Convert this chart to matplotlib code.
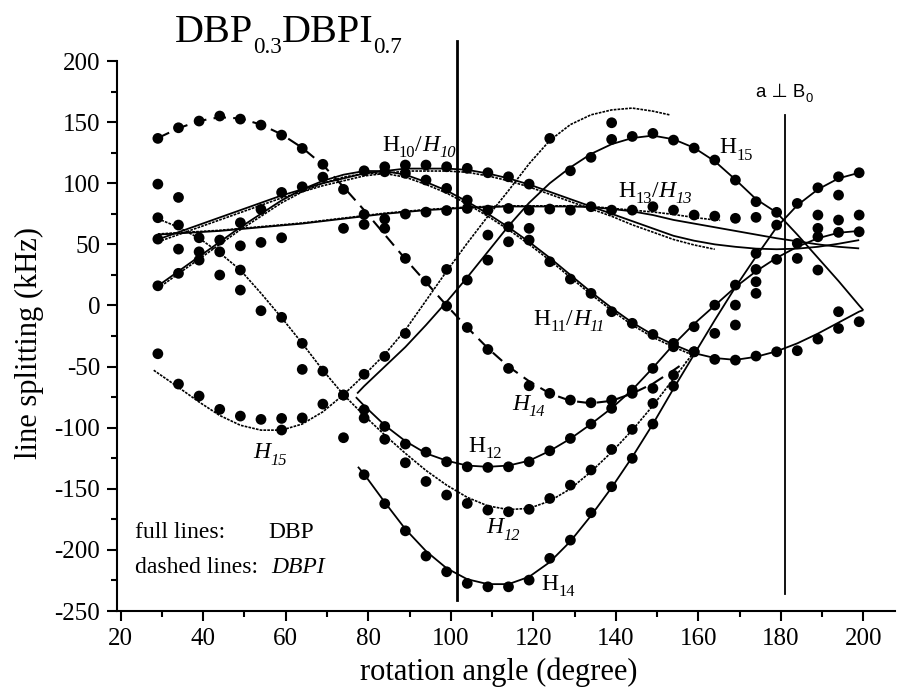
import matplotlib
matplotlib.use("Agg")
import matplotlib.pyplot as plt

plt.rcParams['font.family'] = ['Liberation Serif', 'DejaVu Serif']
plt.rcParams['mathtext.fontset'] = 'custom'
plt.rcParams['mathtext.rm'] = 'Liberation Serif'
plt.rcParams['mathtext.it'] = 'Liberation Serif:italic'
plt.rcParams['axes.unicode_minus'] = False

# ---------------- measured line splittings (kHz) vs rotation angle (deg) ----------------
h14i_dot_ang = [29, 34, 39, 44, 49, 54, 59, 64, 69, 74, 79, 89, 94, 99, 104, 109, 114, 119, 124, 129, 134, 139, 144, 149, 154]
h14i_dot = [136.7, 145.4, 150.9, 155, 152.5, 147.6, 139.4, 128.5, 115.5, 95, 74.5, 38.5, 20, -0.5, -18,
            -36, -51.5, -65.7, -71.9, -77.4, -79.6, -77.4, -69.2, -67.8, -57]

h15i_dot_ang = [29, 34, 39, 44, 49, 54, 59, 64, 69, 74, 79, 84, 89, 99, 109, 124, 139]
h15i_dot = [-39.5, -64.3, -74.1, -85, -90.5, -93.2, -92.4, -92, -80.7, -73.3, -56.3, -41.7, -22.9, 29.5, 57.6, 136.7, 149.5]

h15_dot_ang = [104, 109, 114, 129, 134, 139, 144, 149, 154, 159, 164, 169, 174, 179]
h15_dot = [20.8, 37.1, 64.4, 110.2, 121.2, 135.9, 138.3, 140.8, 135.3, 128.8, 119, 102.6, 84.9, 76.2]

h10_dot_ang = [29, 59, 64, 79, 84, 89, 94, 99, 104, 109, 114, 119]
h10_dot = [54.3, 92.5, 97.1, 110.2, 113.5, 114.9, 114.9, 113.5, 112.2, 108.6, 105.3, 99.3]

h11_dot_ang = [29, 34, 39, 44, 49, 54, 69, 84, 89, 94, 99, 104, 109, 119, 124, 129, 134, 139, 144, 149,
               154, 159, 164, 169, 174, 179, 184, 189, 194, 199]
h11_dot = [16.1, 26.3, 37.1, 53.5, 67.7, 78.6, 105, 109.4, 108.1, 102.6, 95.8, 86.2, 78, 53.5, 35.8, 21.6, 9.9,
           -5.1, -14.6, -23.7, -31, -37.9, -44.1, -44.7, -41.4, -37.9, -37, -27.5, -18.8, -13.3]

h13_dot_ang = [84, 89, 94, 99, 104, 114, 119, 124, 129, 134, 139, 144, 149, 154, 159, 164, 169, 174]
h13_dot = [70.7, 74.8, 76.4, 77.7, 79.4, 79.4, 78, 78.9, 78, 80.8, 78, 78, 80.8, 78, 74, 73.1, 71.3, 72.1]

h12_dot_ang = [79, 84, 89, 94, 99, 104, 109, 114, 119, 124, 129, 134, 139, 144, 149, 154, 164, 169, 174, 179,
               184, 189, 194, 199]
h12_dot = [-92.1, -99, -113.4, -120, -127.9, -132, -132.5, -132, -127.9, -118.9, -108.8, -97, -84.2, -71.9,
           -51.5, -33.8, 0.3, 16.7, 29.5, 37.7, 50.8, 56.2, 59.8, 60.3]

h12i_dot_ang = [29, 34, 39, 44, 49, 54, 59, 64, 69, 74, 79, 84, 89, 94, 99, 104, 109, 114, 119, 124, 129, 134,
                139, 144, 149]
h12i_dot = [71.8, 65.8, 55.4, 43.9, 29, -4.3, -9.7, -31, -53.7, -73.3, -85.3, -109.5, -128.7, -144, -155.1,
            -162, -167.4, -168.8, -166.8, -157.9, -147, -134.6, -117.8, -101.4, -80.1]

h14_dot_ang = [79, 84, 89, 94, 99, 104, 109, 114, 119, 124, 129, 134, 139, 144, 149, 154, 159, 174, 179, 184,
               189, 194, 199]
h14_dot = [-138.5, -162.2, -184.4, -205, -217.9, -227.4, -230.2, -230.2, -224.7, -206.9, -192, -169.6, -148.3,
           -125.1, -97, -66, -37.9, 42.6, 65.8, 83.5, 96.3, 105.3, 108.6]

other_dot_ang = [29, 34, 34, 39, 44, 49, 49, 54, 59, 59, 64, 74, 74, 79, 84, 114, 119, 159, 164, 169, 169, 174,
                 174, 184, 189, 189, 189, 194, 194, 194, 199]
other_dot = [99.3, 88.4, 46.1, 43.9, 24.9, 48.8, 12.6, 51.6, 55.4, -101.9, -52.3, 63.1, -108.2, 66.3, 63.1,
             52.1, 63.1, -17.4, -22.8, 0.3, -16, 19.4, 9.9, 38.5, 74, 63.1, 29, 90.3, 69.9, -5.1, 74]

# ---------------- fitted curves ----------------
grid5 = [29, 34, 39, 44, 49, 54, 59, 64, 69, 74, 79, 84, 89, 94, 99, 104, 109, 114, 119, 124, 129, 134, 139,
         144, 149, 154, 159, 164, 169, 174, 179, 184, 189, 194, 199]

# DBPI, H14 (long dashes)
h14i_fit_x = grid5[:26] + [157]
h14i_fit_y = [137, 145, 151, 154, 153, 148, 140, 129, 115, 97, 78, 58, 38, 19, 0, -18, -35, -50, -62, -72,
              -78, -80, -78, -72, -64, -53, -46]

# DBPI, H15
h15i_fit_x = [28] + grid5[1:25] + [153]
h15i_fit_y = [-53, -67, -79, -90, -98, -102, -102, -97, -87, -73, -57, -40, -20, 4, 28, 51, 73, 94, 116, 135,
              148, 156, 160, 161.5, 159, 156]

# DBP, H15
h15_fit_x = [77.3] + grid5[10:] + [200]
h15_fit_y = [-72, -66, -50, -34, -16, 3, 23, 44, 65, 84, 100, 113, 124, 132, 137, 139, 136, 129, 118, 103, 87,
             76, 58, 39, 20, 0, -3.8]

# DBP / DBPI, H10
h10_fit_x = grid5
h10_fit_y = [54, 60, 66, 72, 78, 84, 90, 95, 100, 104, 108, 110, 112, 112, 112, 111, 108, 104, 99, 93,
             87, 81, 75, 69, 63, 57, 53, 50, 48, 46.5, 46, 46.5, 48, 50.5, 53.5]
h10i_fit_x = grid5[:28]
h10i_fit_y = [52, 58, 64, 70, 76, 82, 88, 93, 98, 102, 106, 108, 110, 110, 110, 109, 106, 102, 97, 91,
              85, 79, 73, 66, 60, 54, 49.5, 46]

# DBP / DBPI, H11
h11_fit_x = grid5 + [200]
h11_fit_y = [16, 28, 40, 52, 64, 75, 86, 95, 102, 107, 110, 110, 107, 101, 94, 85, 75, 64, 52, 39,
             25, 11, -2, -14, -24, -32, -39, -43, -44.5, -42, -37.5, -31, -23, -14, -5, -3.8]
h11i_fit_x = grid5[:27]
h11i_fit_y = [14, 26, 38, 50, 62, 73, 84, 93, 100, 105, 108, 108, 105, 99, 92, 83, 73, 62, 50, 37,
              23, 9, -4, -16, -26, -34, -41]

# DBP / DBPI, H13
h13_fit_x = grid5
h13_fit_y = [58, 59, 60, 61, 62.5, 64, 65.5, 67, 69, 71, 73, 75, 76.5, 78, 79, 80, 80.5, 81, 81, 81,
             81, 80.5, 79, 77, 74, 70, 67, 64, 61, 58, 55, 52.5, 50, 48, 46.7]
h13i_fit_x = grid5[:28] + [165.3]
h13i_fit_y = [58.5, 59.5, 60.5, 61.5, 63, 64.5, 66, 67.5, 69.5, 71.5, 73.5, 75.5, 77, 78.5, 79.5, 80.5, 81,
              81.5, 81.5, 81.5, 81.5, 81, 79.5, 78, 76.5, 74.5, 72, 70, 69.7]

# DBP, H12
h12_fit_x = [77] + grid5[10:]
h12_fit_y = [-75, -82, -98, -111, -121, -127, -131, -132, -131, -127, -119, -109, -97, -84, -69, -51,
             -32, -15, 0, 15, 28, 39, 48, 55, 59.5, 61]

# DBPI, H12
h12i_fit_x = grid5[:27]
h12i_fit_y = [71, 64, 55, 43, 29, 10, -10, -31, -53, -73, -90, -106, -121, -135, -147, -157, -164, -167,
              -166, -160, -150, -136, -120, -102, -82, -60, -38]

# DBP, H14
h14_fit_x = [77.5] + grid5[10:]
h14_fit_y = [-132, -138, -161, -183, -201, -215, -224, -228, -228, -222, -210, -193, -172, -149, -124, -97,
             -68, -40, -12, 15, 40, 64, 82, 95, 104, 108.6]

# marker angles
mark_angles = [101.5, 181]

# ---------------- figure ----------------
fig = plt.figure(figsize=(9.0, 6.96), dpi=100)
ax = fig.add_axes([0.1297, 0.1221, 0.8648, 0.7902])
ax.set_xlim(19.03, 207.7)
ax.set_ylim(-250, 200)

solid = dict(color='black', lw=1.3, ls='-', solid_capstyle='butt')
fine = dict(color='black', lw=1.2, ls=(0, (1.6, 0.7)))
longdash = dict(color='black', lw=1.5, ls=(0, (6.0, 3.5)))

ax.plot(h14i_fit_x, h14i_fit_y, **longdash)
ax.plot(h15i_fit_x, h15i_fit_y, **fine)
ax.plot(h15_fit_x, h15_fit_y, **solid)
ax.plot(h10_fit_x, h10_fit_y, **solid)
ax.plot(h10i_fit_x, h10i_fit_y, **fine)
ax.plot(h11_fit_x, h11_fit_y, **solid)
ax.plot(h11i_fit_x, h11i_fit_y, **fine)
ax.plot(h13_fit_x, h13_fit_y, **solid)
ax.plot(h13i_fit_x, h13i_fit_y, **fine)
ax.plot(h12_fit_x, h12_fit_y, **solid)
ax.plot(h12i_fit_x, h12i_fit_y, **fine)
ax.plot(h14_fit_x, h14_fit_y, **solid)

ax.plot([mark_angles[0]] * 2, [-241, 216], color='black', lw=2.0, clip_on=False)
ax.plot([mark_angles[1]] * 2, [-236, 156], color='black', lw=1.3, clip_on=False)

dot_sets = [(h14i_dot_ang, h14i_dot), (h15i_dot_ang, h15i_dot), (h15_dot_ang, h15_dot),
            (h10_dot_ang, h10_dot), (h11_dot_ang, h11_dot), (h13_dot_ang, h13_dot),
            (h12_dot_ang, h12_dot), (h12i_dot_ang, h12i_dot), (h14_dot_ang, h14_dot),
            (other_dot_ang, other_dot)]
for xs, ys in dot_sets:
    ax.scatter(xs, ys, s=60, color='black', edgecolors='none', zorder=5, clip_on=False)

# axes styling
for side in ('top', 'right'):
    ax.spines[side].set_visible(False)
for side in ('left', 'bottom'):
    ax.spines[side].set_linewidth(1.5)
ax.set_xticks([20, 40, 60, 80, 100, 120, 140, 160, 180, 200])
ax.set_xticks([30, 50, 70, 90, 110, 130, 150, 170, 190], minor=True)
ax.set_yticks([200, 150, 100, 50, 0, -50, -100, -150, -200, -250])
ax.set_yticks([175, 125, 75, 25, -25, -75, -125, -175, -225], minor=True)
ax.tick_params(which='major', direction='out', length=7, width=1.5, labelsize=18, pad=5)
ax.tick_params(which='minor', direction='out', length=4.5, width=1.5)

ax.set_xlabel('rotation angle (degree)', fontsize=22)
ax.set_ylabel('line splitting (kHz)', fontsize=22)
ax.xaxis.set_label_coords(0.4905, -0.085)
ax.yaxis.set_label_coords(-0.094, 0.487)

renderer = fig.canvas.get_renderer()


def rich(x, y, parts, size, coords='data', sub_scale=0.7, drop=0.27, family=None):
    """Draw a run of text pieces; each piece is (text, subscript?, italic?)."""
    off = 0.0
    for text, is_sub, italic in parts:
        fs = size * sub_scale if is_sub else size
        dy = -drop * size if is_sub else 0.0
        t = ax.annotate(text, xy=(x, y), xycoords=coords, xytext=(off, dy),
                        textcoords='offset points', fontsize=fs,
                        fontstyle='italic' if italic else 'normal',
                        ha='left', va='baseline', annotation_clip=False)
        if family is not None:
            t.set_family(family)
        bb = t.get_window_extent(renderer)
        off += bb.width * 72.0 / fig.dpi


rich(0.1944, 0.940, [('DBP', False, False), ('0.3', True, False), ('DBPI', False, False), ('0.7', True, False)],
     29, coords='figure fraction', sub_scale=0.57, drop=0.29)

rich(83.3, 126.6, [('H', False, False), ('10', True, False), ('/', False, False), ('H', False, True), ('10', True, True)], 17)
rich(140.6, 88.9, [('H', False, False), ('13', True, False), ('/', False, False), ('H', False, True), ('13', True, True)], 17)
rich(120.0, -16.0, [('H', False, False), ('11', True, False), ('/', False, False), ('H', False, True), ('11', True, True)], 17)
rich(165.1, 124.4, [('H', False, False), ('15', True, False)], 17)
rich(52.1, -125.0, [('H', False, True), ('15', True, True)], 17)
rich(114.8, -85.6, [('H', False, True), ('14', True, True)], 17)
rich(104.3, -119.7, [('H', False, False), ('12', True, False)], 17)
rich(108.7, -186.5, [('H', False, True), ('12', True, True)], 17)
rich(122.0, -232.9, [('H', False, False), ('14', True, False)], 17)
rich(174.0, 170.8, [('a \u22a5 B', False, False), ('0', True, False)], 13.4,
     family=['Liberation Sans', 'DejaVu Sans'])

ax.text(23.5, -190.6, 'full lines:', fontsize=17, ha='left', va='baseline')
ax.text(55.8, -190.6, 'DBP', fontsize=17, ha='left', va='baseline')
ax.text(23.5, -218.7, 'dashed lines:', fontsize=17, ha='left', va='baseline')
ax.text(56.6, -218.7, 'DBPI', fontsize=17, ha='left', va='baseline', fontstyle='italic')

fig.savefig('out.png', dpi=100)
